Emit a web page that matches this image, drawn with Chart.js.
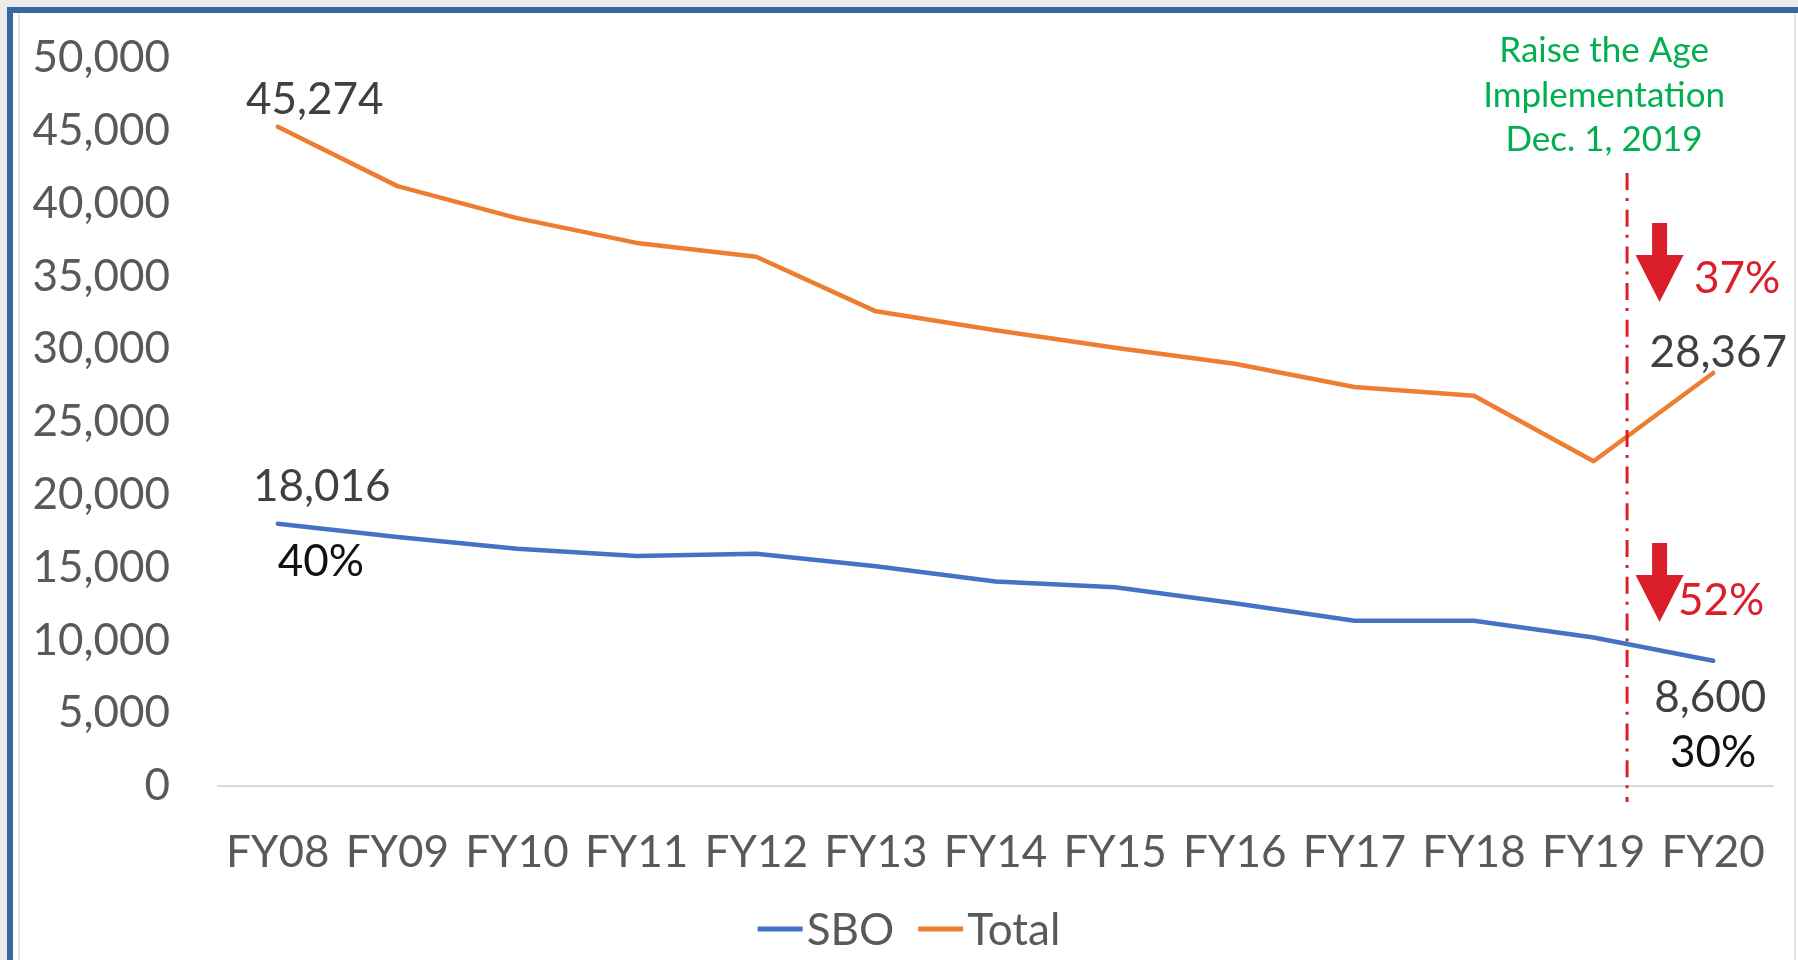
<!DOCTYPE html>
<html>
<head>
<meta charset="utf-8">
<title>SBO and Total, FY08–FY20</title>
<script src="https://cdn.jsdelivr.net/npm/chart.js@4.4.0/dist/chart.umd.min.js"></script>
<style>
  html, body { margin: 0; padding: 0; background: #fff; }
  body { width: 1798px; height: 960px; position: relative; overflow: hidden; }
  .strip-top  { position: absolute; left: 0; top: 0; width: 1798px; height: 7px; background: #ececec; }
  .strip-left { position: absolute; left: 0; top: 0; width: 7px; height: 960px; background: #ececec; }
  .frame-top  { position: absolute; left: 7px; top: 7px; width: 1791px; height: 6px; background: #3b64a1; }
  .frame-left { position: absolute; left: 7px; top: 7px; width: 6px; height: 953px; background: #3b64a1; }
  .edge-l { position: absolute; left: 18px; top: 13px; width: 2px; height: 947px; background: #e4e4e4; }
  .edge-r { position: absolute; left: 1794px; top: 13px; width: 2px; height: 947px; background: #e4e4e4; }
  #chart { position: absolute; left: 0; top: 0; }
</style>
</head>
<body>
<div class="strip-top"></div>
<div class="strip-left"></div>
<div class="frame-top"></div>
<div class="frame-left"></div>
<div class="edge-l"></div>
<div class="edge-r"></div>
<canvas id="chart" width="1798" height="960"></canvas>
<script>
// ---- data ----
const categories = ['FY08', 'FY09', 'FY10', 'FY11', 'FY12', 'FY13', 'FY14',
                    'FY15', 'FY16', 'FY17', 'FY18', 'FY19', 'FY20'];
const sboValues   = [18016, 17100, 16300, 15800, 15950, 15100, 14050,
                     13650, 12550, 11350, 11350, 10200, 8600];
const totalValues = [45274, 41200, 39000, 37300, 36350, 32600, 31300,
                     30100, 29000, 27400, 26800, 22300, 28367];
const yTickValues = [0, 5000, 10000, 15000, 20000, 25000, 30000,
                     35000, 40000, 45000, 50000];
const seriesNames = ['SBO', 'Total'];
const eventNote   = ['Raise the Age', 'Implementation', 'Dec. 1, 2019'];
// Dec. 1, 2019 sits part way between the FY19 and FY20 points
const eventIndex  = 11.28;

// ---- styling ----
const FONT = 'Lato, "Open Sans", sans-serif';
const COLORS = {
  sbo: '#4472C4',
  total: '#ED7D31',
  red: '#DA1F2B',
  green: '#00B050',
  axisText: '#595959',
  valueText: '#404040',
  pctText: '#111111',
  axisLine: '#D9D9D9'
};

const fmt = n => n.toLocaleString('en-US');
const pct = r => Math.round(r * 100) + '%';

function downArrow(ctx, cx, top, headTop, tip) {
  const shaft = 7.5, head = 24;
  ctx.beginPath();
  ctx.moveTo(cx - shaft, top);
  ctx.lineTo(cx + shaft, top);
  ctx.lineTo(cx + shaft, headTop);
  ctx.lineTo(cx + head, headTop);
  ctx.lineTo(cx, tip);
  ctx.lineTo(cx - head, headTop);
  ctx.lineTo(cx - shaft, headTop);
  ctx.closePath();
  ctx.fill();
}

// value labels, the implementation marker and the change arrows
const annotations = {
  id: 'annotations',
  afterDatasetsDraw(chart) {
    const ctx = chart.ctx;
    const xs = chart.scales.x;
    const top = chart.chartArea.top;
    const sbo = chart.getDatasetMeta(0).data;
    const tot = chart.getDatasetMeta(1).data;
    const first = 0, last = categories.length - 1;

    ctx.save();
    ctx.textAlign = 'center';
    ctx.textBaseline = 'alphabetic';
    ctx.font = `44px ${FONT}`;

    ctx.fillStyle = COLORS.valueText;
    ctx.fillText(fmt(totalValues[first]), tot[first].x + 37, tot[first].y - 13);
    ctx.fillText(fmt(sboValues[first]),   sbo[first].x + 44, sbo[first].y - 23);
    ctx.fillText(fmt(totalValues[last]),  tot[last].x + 5,   tot[last].y - 6);
    ctx.fillText(fmt(sboValues[last]),    sbo[last].x - 3,   sbo[last].y + 51);

    ctx.fillStyle = COLORS.pctText;
    ctx.fillText(pct(sboValues[first] / totalValues[first]), sbo[first].x + 43, sbo[first].y + 52);
    ctx.fillText(pct(sboValues[last] / totalValues[last]),   sbo[last].x,       sbo[last].y + 106);

    // implementation date marker
    const ex = xs.getPixelForValue(eventIndex);
    ctx.strokeStyle = COLORS.red;
    ctx.lineWidth = 3;
    ctx.setLineDash([17, 8, 3, 8.7]);
    ctx.beginPath();
    ctx.moveTo(ex, top + 115);
    ctx.lineTo(ex, chart.chartArea.bottom + 16);
    ctx.stroke();
    ctx.setLineDash([]);

    ctx.fillStyle = COLORS.green;
    ctx.font = `35px ${FONT}`;
    const noteX = ex - 23;
    ctx.fillText(eventNote[0], noteX, top + 4);
    ctx.fillText(eventNote[1], noteX, top + 49);
    ctx.fillText(eventNote[2], noteX, top + 93);

    // decline since FY08
    ctx.fillStyle = COLORS.red;
    downArrow(ctx, ex + 32.5, top + 165, top + 197, top + 244);
    downArrow(ctx, ex + 32.5, top + 485, top + 517, top + 564);
    ctx.font = `44px ${FONT}`;
    ctx.fillText(pct((totalValues[first] - totalValues[last]) / totalValues[first]), ex + 110, top + 235);
    ctx.fillText(pct((sboValues[first] - sboValues[last]) / sboValues[first]),       ex + 94,  top + 557);
    ctx.restore();
  }
};

// legend with short line swatches placed tight against the labels
const lineLegend = {
  id: 'lineLegend',
  afterDraw(chart) {
    const ctx = chart.ctx;
    const items = chart.data.datasets.map(d => ({ text: d.label, color: d.borderColor }));
    const swatch = 45, gap = 4, itemGap = 24;
    ctx.save();
    ctx.font = `44px ${FONT}`;
    items.forEach(it => { it.w = ctx.measureText(it.text).width; });
    const width = items.reduce((s, it) => s + swatch + gap + it.w, 0) + itemGap * (items.length - 1);
    let x = chart.width / 2 + 10 - width / 2;
    const baseline = 945, lineY = 929;
    ctx.textAlign = 'left';
    ctx.textBaseline = 'alphabetic';
    items.forEach(it => {
      ctx.fillStyle = it.color;
      ctx.fillRect(x, lineY - 2.5, swatch, 5);
      x += swatch + gap;
      ctx.fillStyle = COLORS.axisText;
      ctx.fillText(it.text, x, baseline);
      x += it.w + itemGap;
    });
    ctx.restore();
  }
};

function draw() {
  new Chart(document.getElementById('chart'), {
    type: 'line',
    data: {
      labels: categories,
      datasets: [
        { label: seriesNames[0], data: sboValues, borderColor: COLORS.sbo, backgroundColor: COLORS.sbo },
        { label: seriesNames[1], data: totalValues, borderColor: COLORS.total, backgroundColor: COLORS.total }
      ]
    },
    options: {
      responsive: false,
      animation: false,
      devicePixelRatio: 1,
      layout: { padding: { left: 0, right: 25, top: 58, bottom: 64 } },
      elements: {
        line: { borderWidth: 4.5, tension: 0, borderCapStyle: 'round', borderJoinStyle: 'round' },
        point: { radius: 0, hoverRadius: 0 }
      },
      plugins: {
        legend: { display: false },
        tooltip: { enabled: false }
      },
      scales: {
        x: {
          offset: true,
          grid: { display: false, drawTicks: false },
          border: { display: true, color: COLORS.axisLine, width: 2 },
          ticks: { color: COLORS.axisText, font: { family: FONT, size: 44 }, padding: 40, maxRotation: 0, autoSkip: false },
          afterFit(scale) {
            scale.height = 110;
            // plot edges come from layout padding alone
            scale.paddingLeft = 0;
            scale.paddingRight = 0;
          }
        },
        y: {
          min: 0,
          max: 50000,
          grid: { display: false, drawTicks: false },
          border: { display: false },
          afterBuildTicks(scale) { scale.ticks = yTickValues.map(v => ({ value: v })); },
          ticks: {
            color: COLORS.axisText,
            font: { family: FONT, size: 44 },
            padding: 48,
            callback: v => fmt(v)
          },
          afterFit(scale) {
            scale.width = 218;
            scale.paddingTop = 0;
            scale.paddingBottom = 0;
          }
        }
      }
    },
    plugins: [annotations, lineLegend]
  });
}

if (document.fonts && document.fonts.load) {
  Promise.all([document.fonts.load(`44px ${FONT}`), document.fonts.load(`35px ${FONT}`)])
    .then(draw, draw);
} else {
  draw();
}
</script>
</body>
</html>
